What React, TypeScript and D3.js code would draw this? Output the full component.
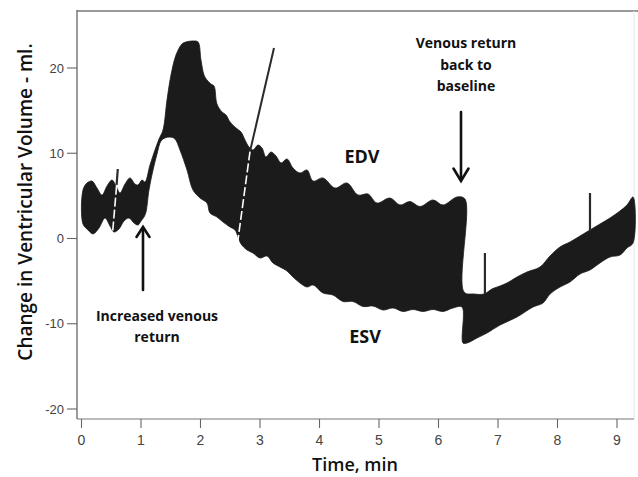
import React from "react";
import * as d3 from "d3";

// ---- data (time in min, volume change in ml) ----
const xTicks = [0, 1, 2, 3, 4, 5, 6, 7, 8, 9];
const yTicks = [20, 10, 0, -10, -20];

// EDV: upper envelope of the volume trace (left to right, incl. the step at 6.4 min)
const edvEnvelope: [number, number][] = [
  [0.025, 5.69], [0.092, 6.51], [0.176, 6.74], [0.26, 5.92], [0.345, 5.1], [0.429, 6.16],
  [0.513, 6.86], [0.58, 6.16], [0.647, 5.34], [0.731, 6.39], [0.815, 7.1], [0.899, 6.39],
  [0.95, 6.28], [1.017, 6.86], [1.067, 6.63], [1.151, 8.62], [1.235, 10.38], [1.303, 11.67],
  [1.37, 12.73], [1.437, 16.25], [1.504, 19.18], [1.588, 21.52], [1.689, 22.82], [1.756, 23.05],
  [1.874, 23.17], [1.958, 23.05], [2.008, 20.94], [2.059, 19.18], [2.109, 18.59], [2.176, 18.12],
  [2.227, 17.89], [2.277, 15.78], [2.361, 14.84], [2.429, 14.49], [2.496, 13.67], [2.597, 12.96],
  [2.681, 12.49], [2.748, 11.55], [2.815, 10.73], [2.882, 10.38], [2.966, 10.97], [3.034, 10.62],
  [3.1, 9.56], [3.185, 10.15], [3.269, 9.68], [3.353, 8.86], [3.454, 9.33], [3.555, 8.27],
  [3.672, 7.68], [3.79, 8.04], [3.891, 6.74], [4.059, 7.1], [4.26, 5.92], [4.462, 6.51],
  [4.647, 5.1], [4.815, 5.22], [4.966, 4.16], [5.185, 4.75], [5.353, 3.93], [5.521, 4.34],
  [5.689, 3.75], [5.908, 4.52], [6.076, 3.93], [6.311, 4.87], [6.445, 4.63],
  [6.429, -6.28], [6.597, -6.51], [6.765, -6.51], [6.899, -5.92], [7.034, -5.57], [7.151, -5.22],
  [7.319, -4.52], [7.487, -3.93], [7.706, -3.34], [7.874, -2.05], [8.042, -0.99], [8.21, -0.41],
  [8.378, 0.29], [8.546, 1.0], [8.714, 1.7], [8.882, 2.4], [9.05, 3.23], [9.168, 3.93],
  [9.269, 4.87],
];

// ESV: lower envelope of the volume trace (left to right)
const esvEnvelope: [number, number][] = [
  [0.025, 1.7], [0.109, 1.0], [0.193, 0.53], [0.294, 1.23], [0.395, 2.4], [0.479, 1.47],
  [0.546, 0.76], [0.63, 1.11], [0.714, 2.05], [0.798, 2.4], [0.882, 1.82], [0.95, 1.58],
  [1.0, 2.05], [1.05, 2.52], [1.084, 3.11], [1.134, 5.69], [1.202, 8.04], [1.269, 9.91],
  [1.336, 11.44], [1.403, 11.79], [1.487, 11.9], [1.571, 11.67], [1.655, 10.38], [1.773, 8.04],
  [1.874, 5.69], [1.992, 4.75], [2.109, 4.16], [2.16, 2.99], [2.277, 2.52], [2.378, 1.94],
  [2.496, 1.35], [2.58, 1.0], [2.63, 0.18], [2.681, -0.64], [2.782, -1.35], [2.882, -1.7],
  [3.0, -2.29], [3.118, -2.05], [3.218, -2.87], [3.336, -3.34], [3.454, -3.81], [3.555, -4.52],
  [3.672, -5.22], [3.79, -5.69], [3.891, -5.45], [4.059, -6.39], [4.227, -6.63], [4.395, -7.39],
  [4.563, -7.39], [4.731, -7.98], [4.899, -7.92], [5.067, -8.39], [5.235, -8.15], [5.403, -8.56],
  [5.571, -8.33], [5.739, -8.56], [5.908, -8.33], [6.076, -8.56], [6.244, -8.15], [6.395, -8.04],
  [6.412, -12.26], [6.479, -12.26], [6.647, -11.67], [6.815, -11.09], [7.034, -10.15],
  [7.319, -9.21], [7.588, -8.04], [7.756, -7.57], [7.874, -6.51], [8.042, -5.69], [8.21, -5.1],
  [8.378, -4.16], [8.546, -3.69], [8.714, -2.87], [8.882, -2.17], [9.05, -1.94], [9.168, -1.11],
  [9.269, -0.53],
];

// thin pen strokes sticking out of the band
const penSpikes: [number, number][][] = [
  [[0.61, 8.15], [0.59, 6.3]],
  [[3.235, 22.35], [2.832, 10.2]],
  [[6.78, -1.7], [6.78, -6.5]],
  [[8.546, 5.34], [8.546, 0.9]],
];
// white retrace lines inside the band
const penRetraces: [number, number][][] = [
  [[0.59, 6.2], [0.525, 0.9]],
  [[2.832, 10.2], [2.613, -1.0]],
];

const W = 638;
const H = 477;

export default function App() {
  const x = d3.scaleLinear().domain([0, 9]).range([81.5, 617]);
  const y = d3.scaleLinear().domain([-20, 20]).range([409, 68]);

  const frameL = 77;
  const frameR = 634;
  const frameT = 11;
  const frameB = 419;

  const band = [...edvEnvelope, ...esvEnvelope.slice().reverse()];
  const bandPath = d3
    .line<[number, number]>()
    .x((d) => x(d[0]))
    .y((d) => y(d[1]))
    .curve(d3.curveCatmullRomClosed.alpha(0.5))(band) as string;

  const seg = d3
    .line<[number, number]>()
    .x((d) => x(d[0]))
    .y((d) => y(d[1]));

  const annFont = "'Open Sans', 'Noto Sans', sans-serif";
  const tickFont = "'Liberation Sans', 'DejaVu Sans', sans-serif";

  return (
    <svg
      width={W}
      height={H}
      viewBox={`0 0 ${W} ${H}`}
      style={{ position: "absolute", left: 0, top: 0, background: "#fff" }}
    >
      <rect x={0} y={0} width={W} height={H} fill="#fff" />
      {/* frame */}
      <line x1={frameL} x2={W} y1={frameT} y2={frameT} stroke="#777" strokeWidth={1.3} />
      <line x1={frameR} x2={frameR} y1={frameT} y2={frameB} stroke="#e4e4e4" strokeWidth={1} />
      <line x1={frameL} x2={frameL} y1={frameT - 1} y2={frameB} stroke="#666" strokeWidth={1.3} />
      <line x1={frameL} x2={frameR} y1={frameB} y2={frameB} stroke="#777" strokeWidth={1.2} />

      {/* y ticks */}
      {yTicks.map((v) => (
        <g key={"y" + v}>
          <line x1={frameL - 10} x2={frameL} y1={y(v)} y2={y(v)} stroke="#666" strokeWidth={1.1} />
          <text
            x={frameL - 13}
            y={y(v)}
            dy="0.35em"
            textAnchor="end"
            fontFamily={tickFont}
            fontSize={13}
            fill="#444"
          >
            {v}
          </text>
        </g>
      ))}
      {/* x ticks */}
      {xTicks.map((t) => (
        <g key={"x" + t}>
          <line x1={x(t)} x2={x(t)} y1={frameB} y2={frameB + 9} stroke="#666" strokeWidth={1.1} />
          <text
            x={x(t)}
            y={frameB + 26}
            textAnchor="middle"
            fontFamily={tickFont}
            fontSize={14}
            fill="#444"
          >
            {t}
          </text>
        </g>
      ))}

      {/* volume band */}
      <path d={bandPath} fill="#1b1b1b" stroke="#1b1b1b" strokeWidth={0.8} />
      {penSpikes.map((s, i) => (
        <path key={"s" + i} d={seg(s) as string} stroke="#2a2a2a" strokeWidth={i === 1 ? 2 : 2.2} fill="none" />
      ))}
      {penRetraces.map((s, i) => (
        <path
          key={"r" + i}
          d={seg(s) as string}
          stroke="#fff"
          strokeWidth={1.6}
          strokeDasharray="9 3"
          fill="none"
        />
      ))}

      {/* arrows */}
      <g stroke="#111" strokeWidth={2.6} fill="none" strokeLinecap="round">
        <line x1={143} x2={143} y1={290} y2={228} />
        <polyline points="136.5,237 143,227 149.5,237" />
        <line x1={461} x2={461} y1={112} y2={180} />
        <polyline points="453.5,168.5 461,181 468.5,168.5" />
      </g>

      {/* annotations */}
      <g fontFamily={annFont} fontWeight={700} fill="#111" textAnchor="middle">
        <text x={157} y={321} fontSize={14}>Increased venous</text>
        <text x={157} y={342} fontSize={14}>return</text>
        <text x={466} y={48} fontSize={14}>Venous return</text>
        <text x={466} y={70} fontSize={14}>back to</text>
        <text x={466} y={91} fontSize={14}>baseline</text>
        <text x={362} y={163} fontSize={18}>EDV</text>
        <text x={365} y={343} fontSize={18}>ESV</text>
      </g>

      {/* axis titles */}
      <text
        x={355}
        y={471}
        textAnchor="middle"
        fontFamily={annFont}
        fontWeight={600}
        fontSize={18}
        fill="#111"
      >
        Time, min
      </text>
      <text
        transform={`translate(32, 202) rotate(-90)`}
        textAnchor="middle"
        fontFamily={annFont}
        fontWeight={600}
        fontSize={19}
        fill="#111"
      >
        Change in Ventricular Volume - ml.
      </text>
    </svg>
  );
}
